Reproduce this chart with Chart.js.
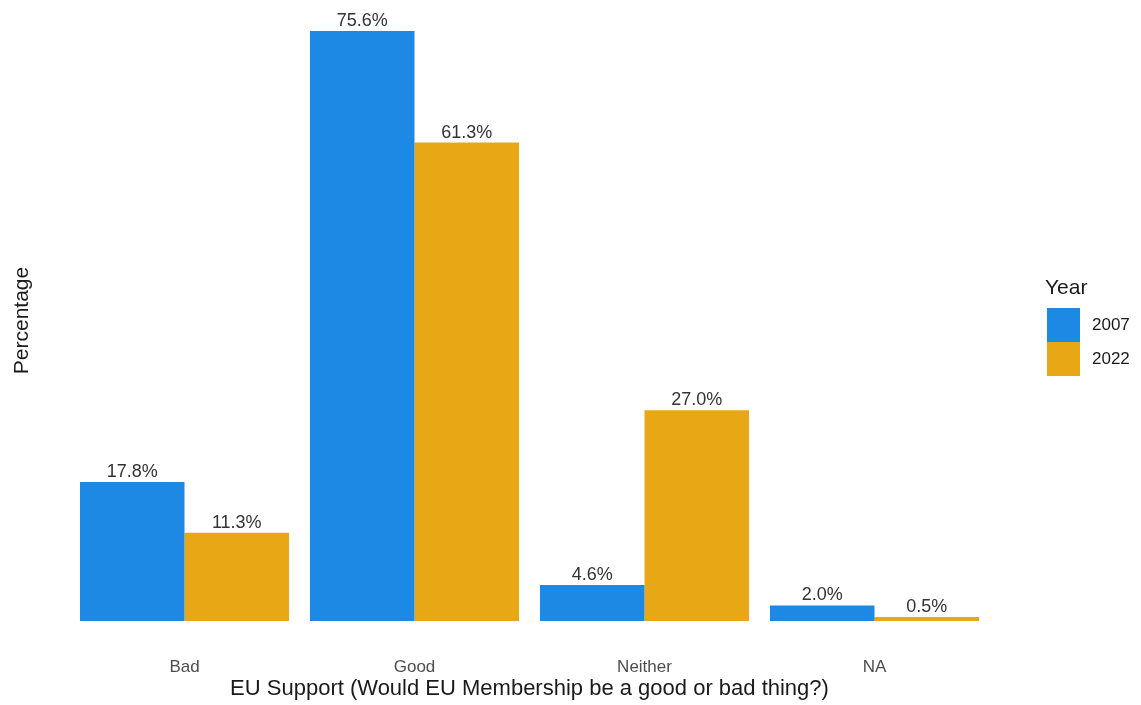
<!DOCTYPE html>
<html>
<head>
<meta charset="utf-8">
<script src="https://cdn.jsdelivr.net/npm/chart.js@4"></script>
<style>
  html, body { margin: 0; padding: 0; background: #fff; }
  #wrap { width: 1141px; height: 705px; position: relative; }
</style>
</head>
<body>
<div id="wrap"><canvas id="chart" width="1141" height="705"></canvas></div>
<script>
const categories = ["Bad", "Good", "Neither", "NA"];
const years = ["2007", "2022"];
const values2007 = [17.8, 75.6, 4.6, 2.0];
const values2022 = [11.3, 61.3, 27.0, 0.5];
const colors = ["#1E88E5", "#E8A815"];

const FONT = "'Liberation Sans', Arial, sans-serif";

// value labels above each bar
const barLabels = {
  id: "barLabels",
  afterDatasetsDraw(chart) {
    const ctx = chart.ctx;
    ctx.save();
    ctx.font = "18px " + FONT;
    ctx.fillStyle = "#333333";
    ctx.textAlign = "center";
    ctx.textBaseline = "alphabetic";
    chart.data.datasets.forEach((ds, i) => {
      chart.getDatasetMeta(i).data.forEach((bar, j) => {
        ctx.fillText(ds.data[j].toFixed(1) + "%", bar.x, bar.y - 5);
      });
    });
    ctx.restore();
  }
};

// ggplot style legend on the right
const sideLegend = {
  id: "sideLegend",
  afterDraw(chart) {
    const ctx = chart.ctx;
    ctx.save();
    ctx.fillStyle = "#1a1a1a";
    ctx.font = "21px " + FONT;
    ctx.textAlign = "left";
    ctx.textBaseline = "alphabetic";
    ctx.fillText("Year", 1045, 294);
    chart.data.datasets.forEach((ds, i) => {
      const y = 308 + i * 34;
      ctx.fillStyle = ds.backgroundColor;
      ctx.fillRect(1047, y, 33, 34);
      ctx.fillStyle = "#1a1a1a";
      ctx.font = "17px " + FONT;
      ctx.textBaseline = "middle";
      ctx.fillText(ds.label, 1092, y + 17);
    });
    ctx.restore();
  }
};

new Chart(document.getElementById("chart"), {
  type: "bar",
  data: {
    labels: categories,
    datasets: [
      { label: years[0], data: values2007, backgroundColor: colors[0] },
      { label: years[1], data: values2022, backgroundColor: colors[1] }
    ]
  },
  options: {
    responsive: false,
    animation: false,
    events: [],
    layout: { padding: { left: 8, right: 151.5, top: 20, bottom: 0 } },
    datasets: {
      bar: { categoryPercentage: 0.909, barPercentage: 1, borderWidth: 0 }
    },
    plugins: {
      legend: { display: false },
      tooltip: { enabled: false }
    },
    scales: {
      x: {
        grid: { display: false, drawTicks: false },
        border: { display: false },
        ticks: { color: "#4d4d4d", font: { family: FONT, size: 17 }, padding: 36 },
        title: {
          display: true,
          text: "EU Support (Would EU Membership be a good or bad thing?)",
          color: "#1a1a1a",
          font: { family: FONT, size: 22 },
          padding: { top: 0, bottom: 3 }
        },
        afterFit(scale) { scale.height = 84; }
      },
      y: {
        min: 0,
        max: 77,
        grid: { display: false, drawTicks: false },
        border: { display: false },
        ticks: { display: false },
        title: {
          display: true,
          text: "Percentage",
          color: "#1a1a1a",
          font: { family: FONT, size: 21 },
          padding: { top: 2, bottom: 0 }
        },
        afterFit(scale) { scale.width = 61.5; }
      }
    }
  },
  plugins: [barLabels, sideLegend]
});
</script>
</body>
</html>
